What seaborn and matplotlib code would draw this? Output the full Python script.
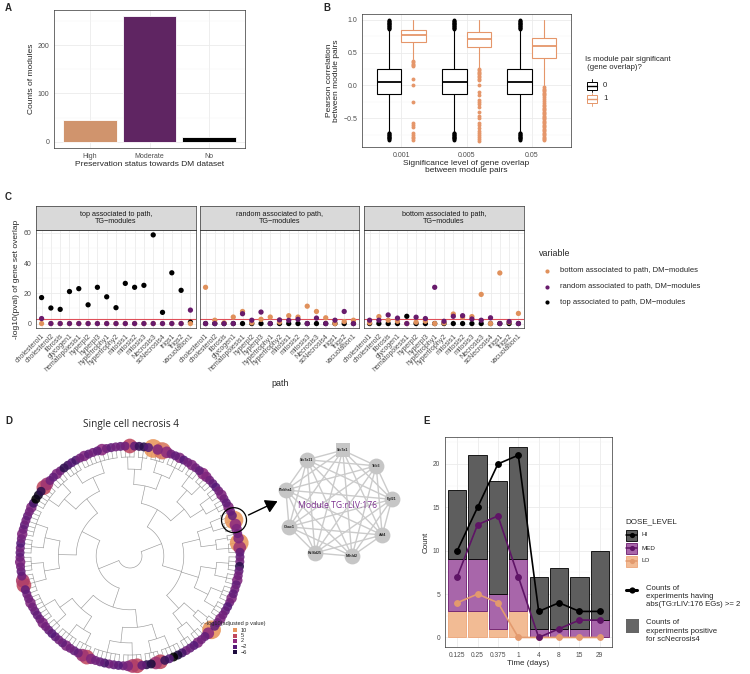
import numpy as np
import pandas as pd
import matplotlib
matplotlib.use("Agg")
import matplotlib.pyplot as plt
import seaborn as sns
from itertools import combinations
from matplotlib.ticker import MultipleLocator
from matplotlib.patches import Rectangle, Circle, FancyArrowPatch
from matplotlib.colors import LinearSegmentedColormap, Normalize

W, H = 750, 674

ORANGE = "#e0915c"
ORANGE_B = "#e5966a"
PURPLE = "#681b6c"
BLACK = "#000000"

# ---------------- panel A
pres_status = ["High", "Moderate", "No"]
pres_counts = [46, 260, 10]

# ---------------- panel B (box summaries)
sig_levels = ["0.001", "0.005", "0.05"]
ns_q1 = [-0.135, -0.135, -0.135]
ns_med = [0.046, 0.046, 0.045]
ns_q3 = [0.245, 0.245, 0.245]
ns_lo = [-0.71, -0.71, -0.71]
ns_hi = [0.85, 0.85, 0.85]
ns_out = [0.86, 0.87, 0.88, 0.89, 0.9, 0.91, 0.92, 0.93, 0.94, 0.95, 0.96, 0.97, 0.98, 0.99, 1.0,
          -0.72, -0.73, -0.74, -0.75, -0.76, -0.77, -0.78, -0.79, -0.8, -0.81, -0.82, -0.83]
sg_q1 = [0.66, 0.585, 0.415]
sg_med = [0.765, 0.713, 0.602]
sg_q3 = [0.845, 0.81, 0.72]
sg_lo = [0.41, 0.27, -0.02]
sg_hi = [1.0, 1.0, 1.0]
sg_out_001 = [0.37, 0.35, 0.33, 0.31, 0.29, 0.1, 0.0, -0.25, -0.57, -0.6, -0.64, -0.72, -0.75, -0.78, -0.81, -0.84]
sg_out_005 = [0.25, 0.23, 0.21, 0.19, 0.17, 0.15, 0.13, 0.1, 0.08, 0.0, -0.1, -0.14, -0.22, -0.25, -0.28,
              -0.33, -0.4, -0.46, -0.5, -0.57, -0.6, -0.65, -0.7, -0.73, -0.76, -0.79, -0.82, -0.85]
sg_out_05 = [-0.03, -0.05, -0.07, -0.09, -0.11, -0.13, -0.15, -0.17, -0.2, -0.24, -0.27, -0.3, -0.32, -0.34,
             -0.36, -0.38, -0.4, -0.42, -0.44, -0.46, -0.48, -0.5, -0.52, -0.54, -0.56, -0.58, -0.6, -0.62,
             -0.64, -0.66, -0.68, -0.7, -0.72, -0.74, -0.76, -0.78, -0.8, -0.82, -0.84]

# ---------------- panel C
paths = ["cholesterol1", "cholesterol2", "fibrosis", "glycogen1", "hematopoiesis1", "hyperpl2", "hyperpl3",
         "hypertrophy1", "hypertrophy2", "mitosis1", "mitosis2", "mitosis3", "Necrosis3", "scNecrosis4",
         "trigs1", "trigs2", "vacuolation1"]
facets = ["top associated to path,\nTG\u2212modules", "random associated to path,\nTG\u2212modules",
          "bottom associated to path,\nTG\u2212modules"]
top_f1 = [17.2, 10.3, 9.4, 21.2, 23.1, 12.4, 24.0, 17.7, 10.5, 26.6, 24.0, 25.3, 58.7, 7.4, 33.6, 22.0, 0.9]
bot_f1 = [0, 0, 0, 0, 0, 0, 0, 0, 0, 0, 0, 0, 0, 0, 0, 0, 0]
rnd_f1 = [3.3, 0, 0, 0, 0, 0, 0, 0, 0, 0, 0, 0, 0, 0, 0, 0, 8.9]
top_f2 = [0, 0, 0, 0, 0, 0, 0, 0, 0, 0, 0, 0, 0, 0, 0, 0, 0]
bot_f2 = [24.0, 2.2, 0.5, 4.3, 8.0, 0.5, 2.8, 4.3, 0.9, 5.2, 4.3, 11.5, 8.0, 3.8, 0, 1.3, 2.2]
rnd_f2 = [0, 0, 0, 0, 6.5, 2.2, 7.6, 0, 2.4, 2.1, 2.8, 0, 3.6, 0, 2.2, 8.0, 0]
top_f3 = [0, 0, 0, 0, 4.8, 0, 0, 0, 0, 0, 0, 0, 0, 0, 0, 0, 0]
bot_f3 = [0.5, 4.6, 2.2, 1.5, 0, 0.9, 1.5, 0, 0.4, 6.3, 4.2, 4.6, 19.3, 0, 33.5, 0.9, 6.7]
rnd_f3 = [2.2, 2.2, 5.7, 3.6, 0, 4.2, 3.3, 24.0, 1.5, 4.8, 5.2, 3.0, 2.2, 3.8, 0, 1.3, 0]
var_names = ["top associated to path, DM\u2212modules", "bottom associated to path, DM\u2212modules",
             "random associated to path, DM\u2212modules"]

# ---------------- panel D (tree leaves = -log10 adjusted p of each module)
clade_a = [[[-1, 0, 5, -1], [-4, -5, -2]], [[10, 1, 8, 2], [0, -1, 1, -2, 0]]]
clade_b = [[[1, 0, -1], [2, 1, 0, -1]], [[-2, 0, 1], [0, -1, 1]]]
clade_c = [[[0, -1], [10, 2, 1]], [[0, 1], [10, 3, -1]]]
clade_d = [[[-1, 0, -5, -1], [0, 1, -1]], [[0, -1, 1, 0], [-2, -1, 0, 1]]]
clade_e = [[[0, -1], [10, 2]], [[-1, 0, 1], [-2, -1, 0]]]
clade_f = [[[-3, -6, -8, -2, -4], [5, 3, -6, -5]], [[-1, 5, 4, 1, 0], [-2, -1, 0, -3, -1, 0, 1]]]
clade_g = [[[5, 3, 0, -1], [0, 1, -1, 0, -1]], [[-2, -1, 0], [1, 0, -1, -1, 0, 1, 0]]]
clade_h = [[[0, -1, 5, 4, 0], [-1, 0, 1, 0]], [[-1, 0, -2, 0], [1, 0, -1, 0, -1, 0, 1]]]
clade_i = [[[-3, -8, -7, -5, 5, 3], [0, -1, 1, 0]], [[-5, -4, -2, -3], [0, 1, -1, 0, -1, 2, 0, -1, 0]]]
tree = [[[clade_a, clade_b], [clade_c, clade_d, clade_e]], [[clade_f, clade_g], [clade_h, clade_i]]]
legend_vals = [10, 5, 2, -2, -6]

genes = ["Slc7a1", "Trib3", "Fgf21", "Atf4", "Mthfd2", "Rcl4d25", "Chac1", "Plekha1", "Slc7a11"]

# ---------------- panel E
times = ["0.125", "0.25", "0.375", "1", "4", "8", "15", "29"]
pos_lo = [3, 3, 1, 3, 0, 0, 0, 0]
pos_med = [6, 6, 4, 6, 1, 1, 1, 2]
pos_hi = [8, 12, 13, 13, 6, 7, 6, 8]
eg_hi = [10, 15, 20, 21, 3, 4, 3, 3]
eg_med = [7, 13, 14, 7, 0, 1, 2, 2]
eg_lo = [4, 5, 4, 0, 0, 0, 0, 0]

sns.set_style("white")
plt.rcParams["font.family"] = ["Liberation Sans", "DejaVu Sans"]
plt.rcParams["axes.unicode_minus"] = True

TICK = 5.0
TITLE = 6.0


def rect(l, t, r, b):
    return [l / W, 1 - b / H, (r - l) / W, (b - t) / H]


def theme_bw(ax, minor_y=None):
    ax.set_facecolor("white")
    for s in ax.spines.values():
        s.set_visible(True)
        s.set_color("#333333")
        s.set_linewidth(0.5)
    ax.tick_params(which="major", length=2, width=0.5, color="#333333", labelsize=TICK,
                   labelcolor="#4d4d4d", pad=1.5)
    if minor_y is not None:
        ax.yaxis.set_minor_locator(MultipleLocator(minor_y))
        ax.tick_params(which="minor", length=0)
        ax.grid(True, which="minor", axis="y", color="#f4f4f4", lw=0.35)
    ax.grid(True, which="major", color="#ebebeb", lw=0.6)
    ax.set_axisbelow(True)


fig = plt.figure(figsize=(W / 100, H / 100), dpi=100)

# ---------------- A
axA = fig.add_axes(rect(54, 10, 245, 148))
sns.barplot(x=pres_status, y=pres_counts, hue=pres_status, palette=[ORANGE, PURPLE, BLACK],
            width=0.9, edgecolor="white", linewidth=0.6, legend=False, ax=axA)
axA.set_xlim(-0.6, 2.6)
axA.set_ylim(-13, 273)
axA.set_yticks([0, 100, 200])
theme_bw(axA, minor_y=50)
axA.set_ylabel("Counts of modules", fontsize=TITLE, labelpad=2)
axA.set_xlabel("Preservation status towards DM dataset", fontsize=TITLE, labelpad=1)

# ---------------- B
axB = fig.add_axes(rect(362, 14, 571, 147))
sg_outs = [sg_out_001, sg_out_005, sg_out_05]
for hue, col, off in [(0, BLACK, -0.1875), (1, ORANGE_B, 0.1875)]:
    stats = []
    for i in range(3):
        if hue == 0:
            stats.append(dict(q1=ns_q1[i], med=ns_med[i], q3=ns_q3[i], whislo=ns_lo[i], whishi=ns_hi[i],
                              fliers=ns_out))
        else:
            stats.append(dict(q1=sg_q1[i], med=sg_med[i], q3=sg_q3[i], whislo=sg_lo[i], whishi=sg_hi[i],
                              fliers=sg_outs[i]))
    axB.bxp(stats, positions=[i + 1 + off for i in range(3)], widths=0.375, showcaps=False,
            patch_artist=True, manage_ticks=False,
            boxprops=dict(facecolor="white", edgecolor=col, lw=0.8),
            whiskerprops=dict(color=col, lw=0.8),
            medianprops=dict(color=col, lw=1.3),
            flierprops=dict(marker="o", markersize=2.8, markerfacecolor=col, markeredgecolor="none"))
axB.set_xticks([1, 2, 3])
axB.set_xticklabels(sig_levels)
axB.set_xlim(0.4, 3.6)
axB.set_ylim(-0.94, 1.09)
axB.set_yticks([-0.5, 0.0, 0.5, 1.0])
axB.set_yticklabels(["\u22120.5", "0.0", "0.5", "1.0"])
theme_bw(axB, minor_y=0.25)
axB.set_ylabel("Pearson correlation\nbetween module pairs", fontsize=TITLE, labelpad=2, linespacing=1.0)
axB.set_xlabel("Significance level of gene overlap\nbetween module pairs", fontsize=TITLE, labelpad=1,
               linespacing=1.0)

# ---------------- C
facet_x = [(36, 196), (200, 359), (364, 524)]
facet_data = [(top_f1, bot_f1, rnd_f1), (top_f2, bot_f2, rnd_f2), (top_f3, bot_f3, rnd_f3)]
for k, ((l, r), (tv, bv, rv)) in enumerate(zip(facet_x, facet_data)):
    ax = fig.add_axes(rect(l, 230, r, 328))
    df = pd.DataFrame({
        "path": paths * 3,
        "value": tv + bv + rv,
        "variable": [var_names[0]] * 17 + [var_names[1]] * 17 + [var_names[2]] * 17,
    })
    sns.stripplot(data=df, x="path", y="value", hue="variable", order=paths, hue_order=var_names,
                  palette=[BLACK, ORANGE, PURPLE], jitter=False, dodge=False, size=3.8, linewidth=0,
                  legend=False, ax=ax, zorder=3)
    ax.axhline(3, color="#e0505a", lw=0.8, zorder=2)
    ax.set_xlim(-0.6, 16.6)
    ax.set_ylim(-2.95, 61.95)
    ax.set_yticks([0, 20, 40, 60])
    theme_bw(ax, minor_y=10)
    ax.set_xticks(range(17))
    ax.set_xticklabels(paths, rotation=45, ha="right", rotation_mode="anchor", fontsize=5.0)
    ax.set_xlabel("")
    if k == 0:
        ax.set_ylabel("-log10(pval) of gene set overlap", fontsize=TITLE, labelpad=2)
    else:
        ax.set_ylabel("")
        ax.tick_params(axis="y", which="both", length=0, labelleft=False)
    st = fig.add_axes(rect(l, 206, r, 230))
    st.set_facecolor("#d9d9d9")
    st.set_xticks([])
    st.set_yticks([])
    for s in st.spines.values():
        s.set_color("#333333")
        s.set_linewidth(0.5)
    st.text(0.5, 0.5, facets[k], ha="center", va="center", fontsize=5.2, color="#1a1a1a",
            linespacing=1.05, transform=st.transAxes)

# ---------------- E
axE = fig.add_axes(rect(445, 437, 612, 647))
xpos = np.arange(len(times))
med_bottom = np.array(pos_lo)
hi_bottom = med_bottom + np.array(pos_med)
axE.bar(xpos, pos_lo, width=0.9, color="#f2bb94", edgecolor="#eda478", lw=0.6, zorder=2)
axE.bar(xpos, pos_med, bottom=med_bottom, width=0.9, color="#a866aa", edgecolor="#6a1b6e", lw=0.6, zorder=2)
axE.bar(xpos, pos_hi, bottom=hi_bottom, width=0.9, color="#5e5e5e", edgecolor="black", lw=0.6, zorder=2)
edf = pd.DataFrame({
    "time": times * 3,
    "count": eg_lo + eg_med + eg_hi,
    "dose": ["LO"] * 8 + ["MED"] * 8 + ["HI"] * 8,
})
sns.pointplot(data=edf, x="time", y="count", hue="dose", order=times, hue_order=["LO", "MED", "HI"],
              palette={"LO": "#e39a6e", "MED": "#5f1466", "HI": "black"}, markers="o", errorbar=None,
              dodge=False, legend=False, markersize=4.0, linewidth=1.2, ax=axE)
axE.set_xlim(-0.6, 7.6)
axE.set_ylim(-1.1, 23.1)
axE.set_yticks([0, 5, 10, 15, 20])
theme_bw(axE, minor_y=2.5)
axE.tick_params(labelsize=4.8)
axE.set_xlabel("Time (days)", fontsize=5.8, labelpad=1)
axE.set_ylabel("Count", fontsize=5.8, labelpad=2)

# ---------------- overlay (panel D, legends, letters) in pixel units
ov = fig.add_axes([0, 0, 1, 1], zorder=10)
ov.set_xlim(0, W)
ov.set_ylim(H, 0)
ov.axis("off")
ov.patch.set_alpha(0)

for lab, x, y in [("A", 5, 8), ("B", 323, 8), ("C", 5, 197), ("D", 5, 421), ("E", 423, 421)]:
    ov.text(x, y, lab, fontsize=7, fontweight="bold", va="center", ha="left")

# B legend
ov.text(585, 56, "Is module pair significant\n (gene overlap)?", fontsize=5.6, va="top", ha="left",
        linespacing=1.15)
for cy, col, lab in [(85.5, BLACK, "0"), (99, ORANGE_B, "1")]:
    ov.add_patch(Rectangle((587, cy - 4), 10, 8, facecolor="white", edgecolor=col, lw=0.7))
    ov.plot([587, 597], [cy, cy], color=col, lw=1.0)
    ov.plot([592, 592], [cy - 6.5, cy - 4], color=col, lw=0.6)
    ov.plot([592, 592], [cy + 4, cy + 6.5], color=col, lw=0.6)
    ov.text(603, cy, lab, fontsize=5.6, va="center")

# C legend and shared x title
ov.text(280, 383, "path", fontsize=6.4, ha="center", va="center")
ov.text(539, 253, "variable", fontsize=6.4, va="center")
for cy, col, lab in [(271, ORANGE, var_names[1]), (287, PURPLE, var_names[2]), (302, BLACK, var_names[0])]:
    ov.scatter([546.7], [cy], s=9, color=col, linewidths=0)
    ov.text(560, cy, lab, fontsize=5.5, va="center")

# D: circular dendrogram
cx, cy0, R = 130, 556, 106
leaf_vals = []
inner = []


def walk(node):
    if not isinstance(node, list):
        leaf_vals.append(node)
        return (len(leaf_vals) - 1, 0)
    kids = [walk(k) for k in node]
    h = max(kk[1] for kk in kids) + 1
    p = (kids[0][0] + kids[-1][0]) / 2
    inner.append((p, h, kids))
    return (p, h)


walk(tree)
step = 360 / len(leaf_vals)
start = 95
hmax = max(n[1] for n in inner)


def ang(p):
    return np.deg2rad(start - p * step)


def rad(h):
    return R - (R - 12) * (h / hmax) ** 1.45


for p, h, kids in inner:
    r0 = rad(h)
    a = np.linspace(ang(kids[0][0]), ang(kids[-1][0]), 40)
    ov.plot(cx + r0 * np.cos(a), cy0 - r0 * np.sin(a), color="#9a9a9a", lw=0.45)
    for kp, kh in kids:
        aa = ang(kp)
        r1 = rad(kh)
        ov.plot([cx + r0 * np.cos(aa), cx + r1 * np.cos(aa)], [cy0 - r0 * np.sin(aa), cy0 - r1 * np.sin(aa)],
                color="#9a9a9a", lw=0.45)

cmap = LinearSegmentedColormap.from_list("dpal", [(0, "#000000"), (2 / 18, "#1d0b3e"), (6 / 18, "#561a78"),
                                                  (10 / 18, "#8c2a7e"), (13 / 18, "#c0485e"), (1, "#e8955a")])
norm = Normalize(-8, 10)
lv = np.array(leaf_vals, dtype=float)
la = ang(np.arange(len(lv)))
lsize = 42 + 14 * np.clip(lv, 0, None)
order = np.argsort(-lsize, kind="stable")
ov.scatter(cx + (R + 4) * np.cos(la[order]), cy0 - (R + 4) * np.sin(la[order]), s=lsize[order],
           c=cmap(norm(lv[order])), alpha=0.88, linewidths=0, zorder=3)

ov.text(131, 425, "Single cell necrosis 4", fontsize=7.2, ha="center", va="center", family=["Open Sans"])

# highlight and arrow
ha_ = np.deg2rad(19)
hx, hy = cx + (R + 4) * np.cos(ha_), cy0 - (R + 4) * np.sin(ha_)
ov.add_patch(Circle((hx, hy), 12.5, facecolor="none", edgecolor="black", lw=0.9, zorder=4))
ov.add_patch(FancyArrowPatch((hx + 12, hy - 4), (280, 500), arrowstyle="-|>,head_length=6,head_width=3.5",
                             color="black", lw=1.0, zorder=4, mutation_scale=1.2))

# D legend
ov.text(205, 623, "-log10(adjusted p value)", fontsize=4.1, va="center")
for v, yy in zip(legend_vals, [630, 635.5, 641, 646.5, 652]):
    ov.scatter([235], [yy], marker="s", s=9, color=cmap(norm(v)), linewidths=0)
    ov.text(240.5, yy, str(v).replace("-", "\u2212"), fontsize=4.1, va="center")

# network of the highlighted module
ncx, ncy, nr = 338, 504, 54
g_ang = np.deg2rad(85 - 40 * np.arange(len(genes)))
gx = ncx + nr * np.cos(g_ang)
gy = ncy - nr * np.sin(g_ang)
for i, j in combinations(range(len(genes)), 2):
    ov.plot([gx[i], gx[j]], [gy[i], gy[j]], color="#cbcbcb", lw=1.0, zorder=2)
for i, g in enumerate(genes):
    ov.scatter([gx[i]], [gy[i]], s=130 if i else 115, marker="o" if i else "s", color="#c6c6c6",
               linewidths=0, zorder=3)
    ov.text(gx[i], gy[i], g, fontsize=2.6, fontweight="bold", ha="center", va="center", zorder=4,
            color="#222222")
ov.text(ncx, ncy + 1, "Module TG:rLIV:176", fontsize=6.2, color="#7b2f8e", ha="center", va="center",
        family=["Open Sans"], zorder=5)

# E legend
ov.text(625, 522, "DOSE_LEVEL", fontsize=5.8, va="center")
for yy, lab, fc, ec, lc in [(535, "HI", "#5e5e5e", "black", "black"),
                            (548, "MED", "#a866aa", "#6a1b6e", "#5f1466"),
                            (561, "LO", "#f2bb94", "#eda478", "#e39a6e")]:
    ov.add_patch(Rectangle((626, yy - 5.5), 11, 11, facecolor=fc, edgecolor=ec, lw=0.6))
    ov.plot([626, 637], [yy, yy], color=lc, lw=1.1)
    ov.scatter([631.5], [yy], s=14, color=lc, linewidths=0, zorder=5)
    ov.text(641.5, yy, lab, fontsize=4.5, va="center")
ov.plot([626, 637], [590, 590], color="black", lw=2.2)
ov.scatter([631.5], [590], s=20, color="black", linewidths=0, zorder=5)
ov.text(646.5, 584.5, "Counts of\nexperiments having\nabs(TG:rLIV:176 EGs) >= 2", fontsize=5.6, va="top",
        linespacing=1.22)
ov.add_patch(Rectangle((626, 619), 13, 14, facecolor="#666666", edgecolor="none"))
ov.text(646.5, 619.5, "Counts of\nexperiments positive\nfor scNecrosis4", fontsize=5.6, va="top",
        linespacing=1.22)

fig.savefig("out.png", dpi=100, facecolor="white")
